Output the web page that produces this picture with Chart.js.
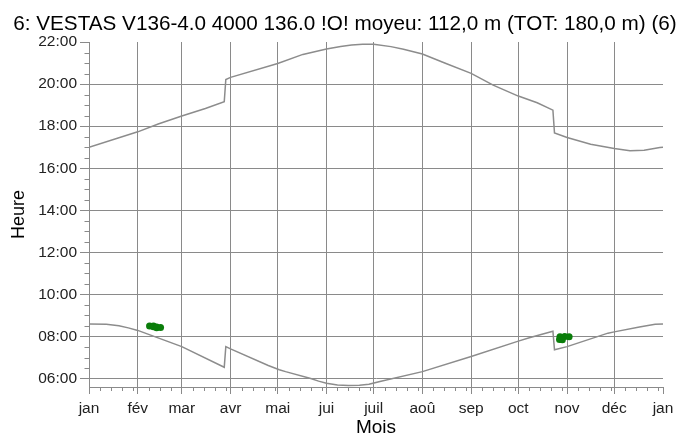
<!DOCTYPE html>
<html>
<head>
<meta charset="utf-8">
<script src="https://cdn.jsdelivr.net/npm/chart.js@4.4.1/dist/chart.umd.min.js"></script>
<style>
  html, body { margin: 0; padding: 0; background: #fff; }
  #chart { display: block; }
</style>
</head>
<body>
<canvas id="chart" width="688" height="439"></canvas>
<script>
const TITLE = "6: VESTAS V136-4.0 4000 136.0 !O! moyeu: 112,0 m (TOT: 180,0 m) (6)";

// x axis: day of year, month starts
const MONTH_LABELS = ["jan", "fév", "mar", "avr", "mai", "jui", "juil", "aoû", "sep", "oct", "nov", "déc", "jan"];
const MONTH_DAYS = [0, 31, 59, 90, 120, 151, 181, 212, 243, 273, 304, 334, 365];

// y axis: hour of day
const HOUR_TICKS = [6, 8, 10, 12, 14, 16, 18, 20, 22];
const HOUR_LABELS = ["06:00", "08:00", "10:00", "12:00", "14:00", "16:00", "18:00", "20:00", "22:00"];

// sunset curve (upper)
const SUNSET_DAYS = [0, 31, 44, 59, 74, 86, 87, 90, 120, 136, 151, 160, 167, 174, 181, 192, 200, 212, 227, 243, 257, 273, 285, 295, 296, 304, 319, 334, 344, 353, 363, 365];
const SUNSET_HOURS = [17.0, 17.73, 18.1, 18.48, 18.84, 19.16, 20.22, 20.32, 20.98, 21.41, 21.67, 21.79, 21.86, 21.89, 21.89, 21.78, 21.66, 21.43, 20.98, 20.51, 19.95, 19.43, 19.11, 18.76, 17.68, 17.46, 17.14, 16.94, 16.83, 16.86, 16.99, 17.0];

// sunrise curve (lower)
const SUNRISE_DAYS = [0, 11, 19, 25, 31, 59, 86, 87, 90, 114, 121, 125, 141, 146, 151, 158, 165, 172, 178, 185, 212, 243, 273, 280, 295, 296, 304, 330, 334, 350, 360, 365];
const SUNRISE_HOURS = [8.6, 8.58, 8.51, 8.41, 8.29, 7.52, 6.54, 7.52, 7.41, 6.62, 6.42, 6.33, 6.0, 5.88, 5.78, 5.69, 5.67, 5.68, 5.73, 5.86, 6.33, 7.05, 7.78, 7.94, 8.25, 7.37, 7.52, 8.16, 8.22, 8.45, 8.58, 8.6];

// shadow hits (green)
const HIT_DAYS = [38.5, 41, 41, 43, 43, 45.5, 299.5, 302.5, 305.3, 299.2, 301];
const HIT_HOURS = [8.5, 8.5, 8.46, 8.45, 8.42, 8.43, 7.99, 8.0, 7.99, 7.86, 7.85];

const GRID = "#8a8a8a";
const FONT = "'Liberation Sans', Arial, sans-serif";

const toPoints = (xs, ys) => xs.map((x, i) => ({ x, y: ys[i] }));

const minorTicks = {
  id: "minorTicks",
  afterDraw(chart) {
    const { ctx, scales: { x, y } } = chart;
    ctx.save();
    ctx.strokeStyle = GRID;
    ctx.lineWidth = 1;
    ctx.beginPath();
    for (let h = Math.ceil(y.min * 2) / 2; h <= y.max; h += 0.5) {
      if (h % 2 === 0) continue;
      const py = Math.round(y.getPixelForValue(h)) + 0.5;
      ctx.moveTo(x.left - 4.5, py);
      ctx.lineTo(x.left, py);
    }
    for (let i = 0; i < MONTH_DAYS.length - 1; i++) {
      for (let d = 7; d < 29; d += 7) {
        const day = MONTH_DAYS[i] + d;
        if (day >= MONTH_DAYS[i + 1]) continue;
        const px = Math.round(x.getPixelForValue(day)) + 0.5;
        ctx.moveTo(px, y.bottom);
        ctx.lineTo(px, y.bottom + 4);
      }
    }
    ctx.stroke();
    ctx.restore();
  },
};

const topTitle = {
  id: "topTitle",
  afterDraw(chart) {
    const { ctx } = chart;
    ctx.save();
    ctx.fillStyle = "#000";
    ctx.font = "20.7px " + FONT;
    ctx.textAlign = "center";
    ctx.textBaseline = "middle";
    ctx.fillText(TITLE, chart.width / 2 + 1, 24);
    ctx.restore();
  },
};

const lineStyle = {
  borderColor: "#8c8c8c",
  borderWidth: 1.5,
  pointRadius: 0,
  tension: 0,
};

new Chart(document.getElementById("chart"), {
  type: "line",
  data: {
    datasets: [
      { label: "coucher", data: toPoints(SUNSET_DAYS, SUNSET_HOURS), ...lineStyle },
      { label: "lever", data: toPoints(SUNRISE_DAYS, SUNRISE_HOURS), ...lineStyle },
      {
        type: "scatter",
        label: "ombre",
        data: toPoints(HIT_DAYS, HIT_HOURS),
        backgroundColor: "#0a7d0a",
        borderColor: "#0a7d0a",
        borderWidth: 0,
        pointRadius: 3.5,
      },
    ],
  },
  options: {
    responsive: false,
    animation: false,
    devicePixelRatio: 1,
    layout: { padding: { top: 42, right: 25, left: 0, bottom: 0 } },
    plugins: {
      legend: { display: false },
      tooltip: { enabled: false },
      title: { display: false },
    },
    scales: {
      x: {
        type: "linear",
        min: 0,
        max: 365,
        afterBuildTicks: (axis) => {
          axis.ticks = MONTH_DAYS.map((v) => ({ value: v }));
        },
        afterFit: (axis) => {
          axis.height = 52;
        },
        ticks: {
          autoSkip: false,
          maxRotation: 0,
          padding: 5,
          color: "#222",
          font: { family: FONT, size: 15.5 },
          callback: (v, i) => MONTH_LABELS[i],
        },
        grid: {
          color: (c) => (c.tick && (c.tick.value === 0 || c.tick.value === 365) ? "rgba(0,0,0,0)" : GRID),
          tickColor: GRID,
          tickLength: 7,
          lineWidth: 1,
        },
        border: { display: true, color: GRID, width: 1 },
        title: {
          display: true,
          text: "Mois",
          color: "#000",
          font: { family: FONT, size: 19 },
          padding: { top: 0, bottom: 0 },
        },
      },
      y: {
        type: "linear",
        min: 5.6,
        max: 22,
        afterBuildTicks: (axis) => {
          axis.ticks = HOUR_TICKS.map((v) => ({ value: v }));
        },
        afterFit: (axis) => {
          axis.width = 89;
        },
        ticks: {
          autoSkip: false,
          padding: 3,
          color: "#222",
          font: { family: FONT, size: 15.5 },
          callback: (v, i) => HOUR_LABELS[i],
        },
        grid: {
          color: (c) => (c.tick && c.tick.value === 22 ? "rgba(0,0,0,0)" : GRID),
          tickColor: GRID,
          tickLength: 9,
          lineWidth: 1,
        },
        border: { display: true, color: GRID, width: 1 },
        title: {
          display: true,
          text: "Heure",
          color: "#000",
          font: { family: FONT, size: 18 },
          padding: { top: 8, bottom: 0 },
        },
      },
    },
  },
  plugins: [minorTicks, topTitle],
});
</script>
</body>
</html>
